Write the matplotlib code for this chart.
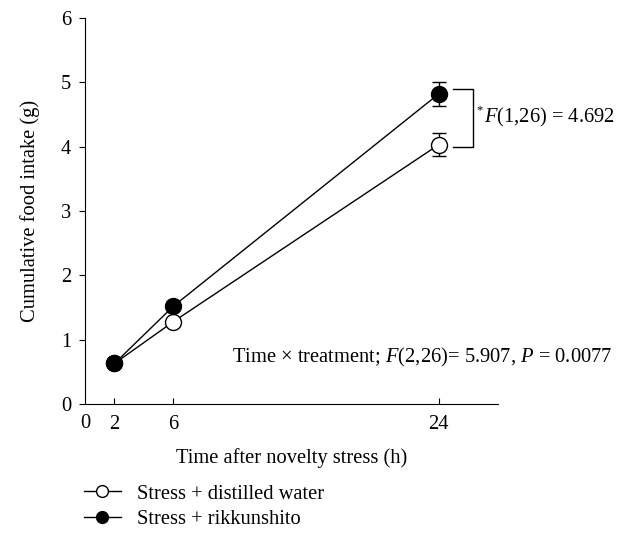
import numpy as np
import matplotlib
matplotlib.use("Agg")
import matplotlib.pyplot as plt
from matplotlib.lines import Line2D

plt.rcParams["font.family"] = ["Liberation Serif", "DejaVu Serif"]
plt.rcParams["mathtext.fontset"] = "custom"
plt.rcParams["mathtext.it"] = "Liberation Serif:italic"
plt.rcParams["mathtext.rm"] = "Liberation Serif"

hours = [2, 6, 24]
water_mean = [0.63, 1.28, 4.03]
water_err = [0.0, 0.0, 0.18]
rikkun_mean = [0.63, 1.52, 4.82]
rikkun_err = [0.0, 0.0, 0.19]
x_ticks = [2, 6, 24]
y_ticks = [0, 1, 2, 3, 4, 5, 6]

FS = 14.8

fig = plt.figure(figsize=(6.31, 5.35), dpi=100)
ax = fig.add_axes([0.1347, 0.2449, 0.654, 0.7215])

ax.errorbar(hours, water_mean, yerr=water_err, color="black", lw=1,
            marker="o", ms=11.5, mfc="white", mec="black", mew=1,
            capsize=5, elinewidth=1, zorder=3)
ax.errorbar(hours, rikkun_mean, yerr=rikkun_err, color="black", lw=1,
            marker="o", ms=11.5, mfc="black", mec="black",
            capsize=5, elinewidth=1, zorder=4)

ax.set_xlim(0, 28)
ax.set_ylim(0, 6)
ax.set_xticks(x_ticks)
ax.set_yticks(y_ticks)
ax.tick_params(axis="x", direction="in", length=4, labelsize=FS, pad=8)
ax.tick_params(axis="y", direction="out", length=4, labelsize=FS, pad=6)
for s in ["top", "right"]:
    ax.spines[s].set_visible(False)
# x axis origin label (no tick)
ax.text(0, -0.025, "0", transform=ax.get_xaxis_transform(), ha="center",
        va="top", fontsize=FS)

ax.set_xlabel("Time after novelty stress (h)", fontsize=FS, labelpad=10)
ax.set_ylabel("Cumulative food intake (g)", fontsize=FS, labelpad=15)

# significance bracket
bx0, bx1 = 25.0, 26.3
ax.plot([bx0, bx1, bx1, bx0], [4.9, 4.9, 4.0, 4.0],
        color="black", lw=1, clip_on=False)
ax.text(26.55, 4.57, "*", fontsize=9, va="center", ha="left")
ax.text(27.1, 4.46, r"$F$(1,26) = 4.692", fontsize=FS, va="center", ha="left")

ax.text(10.0, 0.72, r"Time $\times$ treatment; $F$(2,26)= 5.907, $P$ = 0.0077",
        fontsize=FS, va="center", ha="left")

handles = [
    Line2D([], [], color="black", lw=1, marker="o", ms=8.5, mfc="white", mec="black"),
    Line2D([], [], color="black", lw=1, marker="o", ms=8.5, mfc="black", mec="black"),
]
fig.legend(handles, ["Stress + distilled water", "Stress + rikkunshito"],
           loc="upper left", bbox_to_anchor=(0.133, 0.095), frameon=False,
           fontsize=FS, handlelength=1.8, handletextpad=0.8,
           labelspacing=0.3, borderaxespad=0, borderpad=0)

fig.savefig("out.png", dpi=100)
